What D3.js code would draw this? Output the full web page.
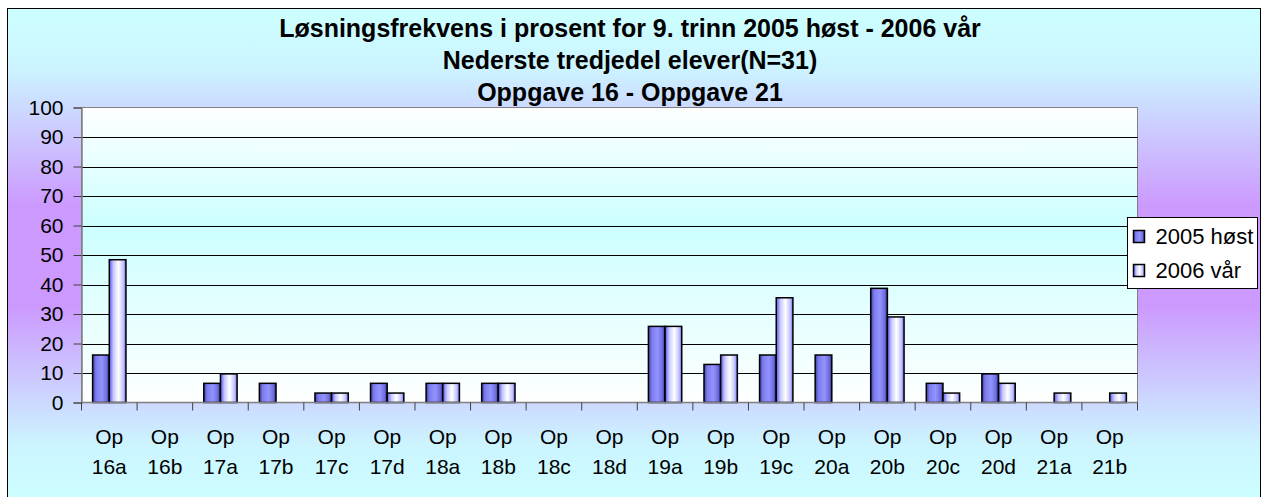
<!DOCTYPE html>
<html>
<head>
<meta charset="utf-8">
<script src="https://cdn.jsdelivr.net/npm/d3@7"></script>
<style>
  body { margin: 0; background: #fff; }
  text { font-family: Arial, "Liberation Sans", sans-serif; fill: #000; }
</style>
</head>
<body>
<script>
"use strict";

let width = 1269;
let height = 497;

// data (N=31, so values are multiples of 1/31)
let categories = ["16a", "16b", "17a", "17b", "17c", "17d", "18a", "18b", "18c", "18d",
                  "19a", "19b", "19c", "20a", "20b", "20c", "20d", "21a", "21b"];
let seriesNames = ["2005 høst", "2006 vår"];
let host2005 = [16.1, 0, 6.5, 6.5, 3.2, 6.5, 6.5, 6.5, 0, 0, 25.8, 12.9, 16.1, 16.1, 38.7, 6.5, 9.7, 0, 0];
let var2006 = [48.4, 0, 9.7, 0, 3.2, 3.2, 6.5, 6.5, 0, 0, 25.8, 16.1, 35.5, 0, 29.0, 3.2, 6.5, 3.2, 3.2];
let yTicks = [0, 10, 20, 30, 40, 50, 60, 70, 80, 90, 100];
let titleLines = ["Løsningsfrekvens i prosent for 9. trinn 2005 høst - 2006 vår",
                  "Nederste tredjedel elever(N=31)",
                  "Oppgave 16 - Oppgave 21"];

let rows = categories.map((c, i) => ({ cat: c, values: [host2005[i], var2006[i]] }));

let svg = d3.select("body").append("svg").attr("width", width).attr("height", height);
let defs = svg.append("defs");

// outer background: cyan - lavender - cyan
let bg = defs.append("linearGradient").attr("id", "bgGrad")
  .attr("x1", 0).attr("y1", 0).attr("x2", 0).attr("y2", 1);
bg.append("stop").attr("offset", "0%").attr("stop-color", "#ccffff");
bg.append("stop").attr("offset", "12%").attr("stop-color", "#ccf4ff");
bg.append("stop").attr("offset", "40%").attr("stop-color", "#cc99ff");
bg.append("stop").attr("offset", "60%").attr("stop-color", "#cc99ff");
bg.append("stop").attr("offset", "88%").attr("stop-color", "#ccf4ff");
bg.append("stop").attr("offset", "100%").attr("stop-color", "#ccffff");

// plot background: white - cyan - white
let pg = defs.append("linearGradient").attr("id", "plotGrad")
  .attr("x1", 0).attr("y1", 0).attr("x2", 0).attr("y2", 1);
pg.append("stop").attr("offset", "0%").attr("stop-color", "#ffffff");
pg.append("stop").attr("offset", "40%").attr("stop-color", "#ccffff");
pg.append("stop").attr("offset", "100%").attr("stop-color", "#ffffff");

// bar fills
let g1 = defs.append("linearGradient").attr("id", "barDark");
g1.append("stop").attr("offset", "0%").attr("stop-color", "#3c3ca0");
g1.append("stop").attr("offset", "20%").attr("stop-color", "#7c7cee");
g1.append("stop").attr("offset", "55%").attr("stop-color", "#9494ff");
g1.append("stop").attr("offset", "85%").attr("stop-color", "#6c6cdd");
g1.append("stop").attr("offset", "100%").attr("stop-color", "#2a2a88");
let g2 = defs.append("linearGradient").attr("id", "barLight");
g2.append("stop").attr("offset", "0%").attr("stop-color", "#5555ee");
g2.append("stop").attr("offset", "25%").attr("stop-color", "#c8c8ff");
g2.append("stop").attr("offset", "55%").attr("stop-color", "#ffffff");
g2.append("stop").attr("offset", "85%").attr("stop-color", "#c0c0ff");
g2.append("stop").attr("offset", "100%").attr("stop-color", "#6666ee");
let fills = ["url(#barDark)", "url(#barLight)"];

svg.append("rect")
  .attr("x", 7.5).attr("y", 8.5).attr("width", 1253).attr("height", 495)
  .attr("fill", "url(#bgGrad)").attr("stroke", "#000").attr("stroke-width", 1);

// title
svg.append("text")
  .attr("text-anchor", "middle")
  .style("font-size", "25px").style("font-weight", "bold")
  .selectAll("tspan")
  .data(titleLines)
  .enter()
  .append("tspan")
    .attr("x", 630)
    .attr("y", (d, i) => 37 + i * 32)
    .text(d => d);

let plotL = 81.5, plotR = 1137.5, plotT = 107.5, plotB = 402.5;

let x = d3.scaleBand().domain(categories).range([plotL, plotR])
  .paddingInner(0.4).paddingOuter(0.2);
let xs = d3.scaleBand().domain([0, 1]).range([0, x.bandwidth()]);
let y = d3.scaleLinear().domain([0, 100]).range([plotB, plotT]);

svg.append("rect")
  .attr("x", plotL).attr("y", plotT).attr("width", plotR - plotL).attr("height", plotB - plotT)
  .attr("fill", "url(#plotGrad)").attr("stroke", "#808080");

// gridlines
svg.append("g")
  .selectAll("line")
  .data(yTicks.filter(t => t > 0 && t < 100))
  .enter()
  .append("line")
    .attr("x1", plotL).attr("x2", plotR)
    .attr("y1", d => Math.round(y(d)) + 0.5).attr("y2", d => Math.round(y(d)) + 0.5)
    .attr("stroke", "#000").attr("stroke-width", 1);

// bars
let groups = svg.append("g").selectAll("g")
  .data(rows)
  .enter()
  .append("g")
    .attr("transform", d => "translate(" + x(d.cat) + ",0)");

groups.selectAll("rect")
  .data(d => d.values.map((v, k) => ({ v: v, k: k })).filter(e => e.v > 0))
  .enter()
  .append("rect")
    .attr("x", d => xs(d.k))
    .attr("y", d => y(d.v))
    .attr("width", xs.bandwidth())
    .attr("height", d => y(0) - y(d.v))
    .attr("fill", d => fills[d.k])
    .attr("stroke", "#000")
    .attr("stroke-width", 1.5);

// y axis
let yAxis = d3.axisLeft(y).tickValues(yTicks).tickSize(8).tickPadding(10);
let ya = svg.append("g").attr("transform", "translate(" + plotL + ",0)").call(yAxis);
ya.select(".domain").attr("stroke", "#808080").attr("stroke-width", 1.5);
ya.selectAll(".tick line").attr("stroke", "#404040");
ya.selectAll(".tick text").style("font-size", "21px").style("font-family", "Arial, 'Liberation Sans', sans-serif");

// x axis: ticks at category boundaries
let step = x.step();
let bounds = d3.range(categories.length + 1).map(i => plotL + i * step);
svg.append("line")
  .attr("x1", plotL).attr("x2", plotR)
  .attr("y1", plotB).attr("y2", plotB)
  .attr("stroke", "#808080").attr("stroke-width", 1.5);
svg.append("g").selectAll("line")
  .data(bounds)
  .enter()
  .append("line")
    .attr("x1", d => d).attr("x2", d => d)
    .attr("y1", plotB).attr("y2", plotB + 8)
    .attr("stroke", "#404040");

let xl = svg.append("g").selectAll("text")
  .data(categories)
  .enter()
  .append("text")
    .attr("text-anchor", "middle")
    .style("font-size", "21px");
xl.append("tspan")
  .attr("x", d => x(d) + x.bandwidth() / 2)
  .attr("y", 444)
  .text("Op");
xl.append("tspan")
  .attr("x", d => x(d) + x.bandwidth() / 2)
  .attr("y", 474)
  .text(d => d);

// legend
let legend = svg.append("g").attr("transform", "translate(1127.5,217.5)");
legend.append("rect")
  .attr("width", 130).attr("height", 71)
  .attr("fill", "#fff").attr("stroke", "#000");
let li = legend.selectAll(".item")
  .data(seriesNames)
  .enter()
  .append("g")
    .attr("class", "item")
    .attr("transform", (d, i) => "translate(6," + (13 + i * 34) + ")");
li.append("rect")
  .attr("width", 11).attr("height", 12)
  .attr("fill", (d, i) => fills[i])
  .attr("stroke", "#000").attr("stroke-width", 1.5);
li.append("text")
  .attr("x", 22).attr("y", 13)
  .style("font-size", "22px")
  .text(d => d);
</script>
</body>
</html>
